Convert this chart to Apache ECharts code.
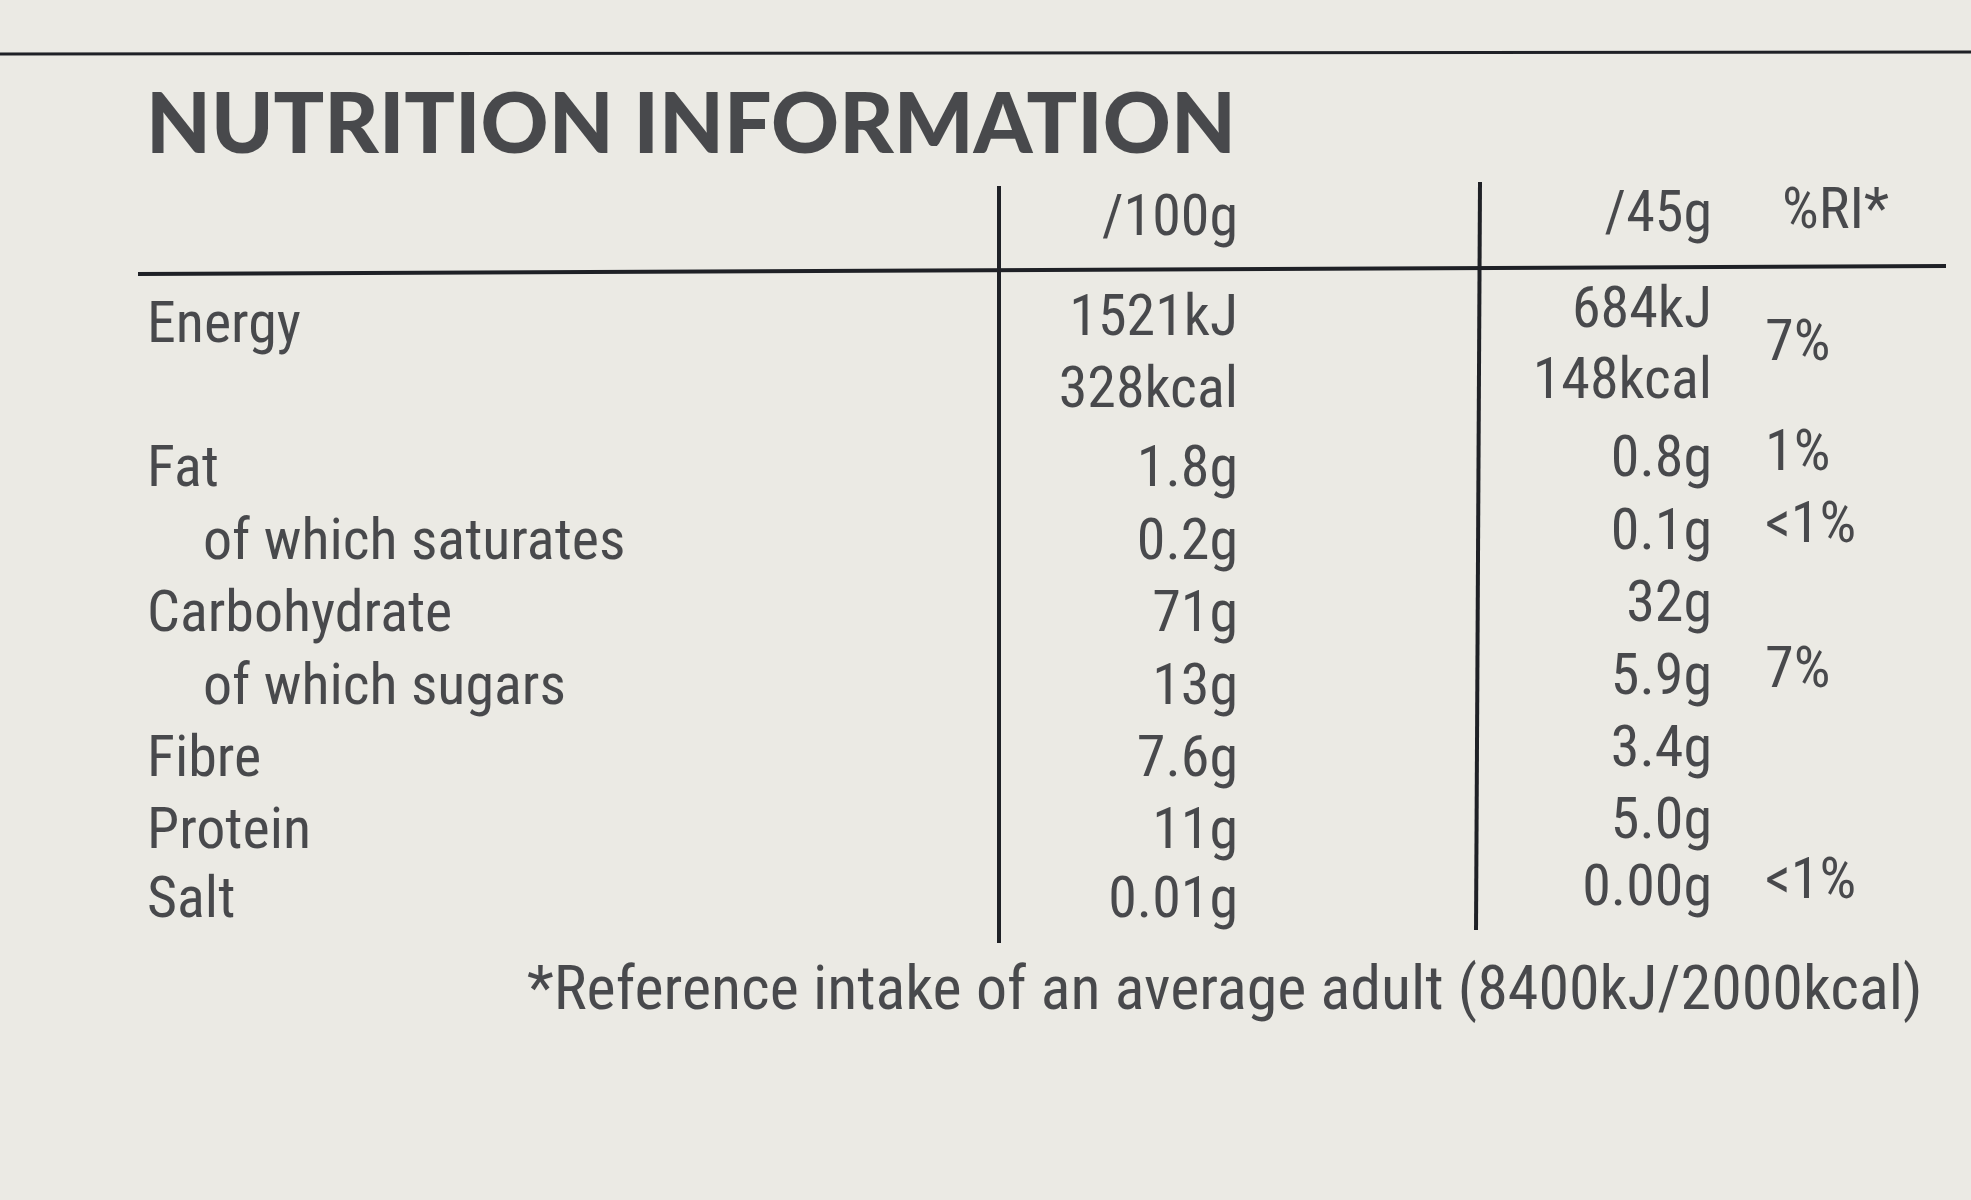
<!DOCTYPE html>
<html><head><meta charset="utf-8">
<script src="https://cdn.jsdelivr.net/npm/echarts@6/dist/echarts.min.js"></script>
<style>html,body{margin:0;padding:0;background:#ebeae4}#c{width:1971px;height:1200px}</style>
</head><body><div id="c"></div>
<script>
const title = 'NUTRITION INFORMATION';
const headers = ['/100g', '/45g', '%RI*'];
const nutrients = ['Energy', 'Fat', 'of which saturates', 'Carbohydrate', 'of which sugars', 'Fibre', 'Protein', 'Salt'];
const indented = [false, false, true, false, true, false, false, false];
const per100g = ['1521kJ', '328kcal', '1.8g', '0.2g', '71g', '13g', '7.6g', '11g', '0.01g'];
const per45g = ['684kJ', '148kcal', '0.8g', '0.1g', '32g', '5.9g', '3.4g', '5.0g', '0.00g'];
const ri = ['7%', '1%', '<1%', '7%', '<1%'];
const footnote = '*Reference intake of an average adult (8400kJ/2000kcal)';

// layout (pixel space)
const nutY = [327, 471, 544, 616, 689, 761, 833, 902];
const valY = [320, 392, 471, 544, 616, 689, 761, 833, 902];
const val45Y = [312, 383, 461, 534, 606, 679, 751, 823, 890];
const riY = [345, 455, 527, 672, 883];
const ink = '#1f2126';
const font = "'Liberation Sans Narrow','Roboto Condensed','Liberation Sans',sans-serif";

function textSeries(points, pos, size, weight) {
  return {
    type: 'scatter', symbolSize: 0, silent: true,
    data: points,
    label: { show: true, position: pos, distance: 0, formatter: p => p.value[2],
      color: ink, fontSize: size, fontFamily: font, fontWeight: weight || 'normal' }
  };
}
const series = [
  textSeries([[146, 126, title]], 'right', 84, 'bold'),
  textSeries([[1238, 220, headers[0]], [1712, 216, headers[1]], [1889, 213, headers[2]]], 'left', 58),
  textSeries(nutrients.map((n, i) => [indented[i] ? 203 : 147, nutY[i], n]), 'right', 58),
  textSeries(per100g.map((v, i) => [1238, valY[i], v]), 'left', 58),
  textSeries(per45g.map((v, i) => [1712, val45Y[i], v]), 'left', 58),
  textSeries(ri.map((v, i) => [1765, riY[i], v]), 'right', 58),
  textSeries([[527, 993, footnote]], 'right', 62)
];
series[0].label.fontFamily = "'Lato','Open Sans',sans-serif";
series[0].label.fontWeight = 900;
series[0].label.letterSpacing = 6;

const chart = echarts.init(document.getElementById('c'));
chart.setOption({
  backgroundColor: '#ebeae4',
  animation: false,
  grid: { left: 0, right: 0, top: 0, bottom: 0 },
  xAxis: { type: 'value', min: 0, max: 1971, show: false },
  yAxis: { type: 'value', min: 0, max: 1200, inverse: true, show: false },
  series: series,
  graphic: [
    { type: 'line', shape: { x1: 0, y1: 54, x2: 1971, y2: 52 }, style: { stroke: ink, lineWidth: 3 } },
    { type: 'line', shape: { x1: 138, y1: 274, x2: 1946, y2: 266 }, style: { stroke: ink, lineWidth: 4 } },
    { type: 'line', shape: { x1: 999, y1: 186, x2: 999, y2: 943 }, style: { stroke: ink, lineWidth: 4 } },
    { type: 'line', shape: { x1: 1480, y1: 182, x2: 1476, y2: 930 }, style: { stroke: ink, lineWidth: 4 } }
  ]
});
</script></body></html>
